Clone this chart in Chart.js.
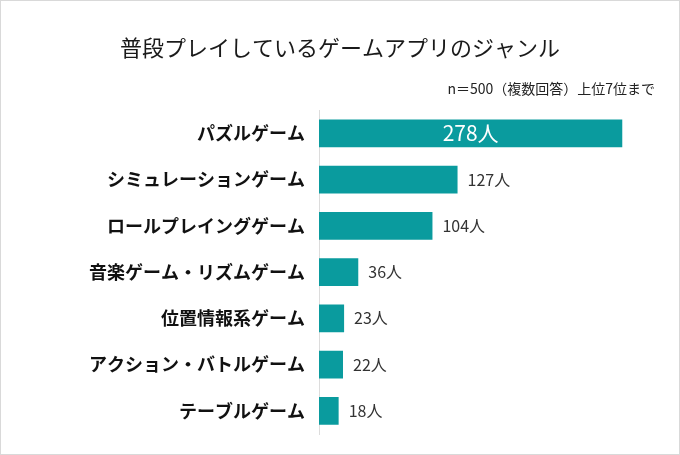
<!DOCTYPE html>
<html>
<head>
<meta charset="utf-8">
<script src="https://cdn.jsdelivr.net/npm/chart.js@4"></script>
<style>
  html, body { margin: 0; padding: 0; background: #fff; }
  #wrap { width: 680px; height: 455px; }
</style>
</head>
<body>
<div id="wrap"><canvas id="myChart" width="680" height="455"></canvas></div>
<script>
const genres = ['パズルゲーム', 'シミュレーションゲーム', 'ロールプレイングゲーム', '音楽ゲーム・リズムゲーム', '位置情報系ゲーム', 'アクション・バトルゲーム', 'テーブルゲーム'];
const counts = [278, 127, 104, 36, 23, 22, 18];
const unit = '人';
const titleText = '普段プレイしているゲームアプリのジャンル';
const noteText = 'n＝500（複数回答）上位7位まで';

const FONT = "'Noto Sans CJK JP', 'Noto Sans', sans-serif";
const TEAL = '#0a9b9e';

// white background + thin frame round the picture
const framePlugin = {
    id: 'frame',
    beforeDraw(chart) {
        const c = chart.ctx;
        c.save();
        c.fillStyle = '#fff';
        c.fillRect(0, 0, chart.width, chart.height);
        c.strokeStyle = '#d9d9d9';
        c.lineWidth = 1;
        c.strokeRect(0.5, 0.5, chart.width - 1, chart.height - 1);
        c.restore();
    }
};

// value labels: first bar inside in white, the rest after the bar end
const valueLabels = {
    id: 'valueLabels',
    afterDatasetsDraw(chart) {
        const c = chart.ctx;
        const meta = chart.getDatasetMeta(0);
        c.save();
        c.textBaseline = 'middle';
        meta.data.forEach((bar, i) => {
            const txt = counts[i] + unit;
            if (i === 0) {
                c.font = `21px ${FONT}`;
                c.fillStyle = '#fff';
                c.textAlign = 'center';
                c.fillText(txt, (bar.base + bar.x) / 2, bar.y);
            } else {
                c.font = `16px ${FONT}`;
                c.fillStyle = '#333';
                c.textAlign = 'left';
                c.fillText(txt, bar.x + 10, bar.y);
            }
        });
        c.restore();
    }
};

const ctx = document.getElementById('myChart').getContext('2d');
const myChart = new Chart(ctx, {
    type: 'bar',
    data: {
        labels: genres,
        datasets: [{
            data: counts,
            backgroundColor: TEAL,
            borderWidth: 0,
            barPercentage: 0.6,
            categoryPercentage: 1.0
        }]
    },
    plugins: [framePlugin, valueLabels],
    options: {
        indexAxis: 'y',
        responsive: false,
        animation: false,
        layout: { padding: { left: 25, right: 25, top: 0, bottom: 21 } },
        plugins: {
            legend: { display: false },
            tooltip: { enabled: false },
            title: {
                display: true,
                text: titleText,
                color: '#1a1a1a',
                font: { family: FONT, size: 22, weight: 'normal' },
                padding: { top: 34, bottom: 20 }
            },
            subtitle: {
                display: true,
                text: noteText,
                align: 'end',
                color: '#222',
                font: { family: FONT, size: 14, weight: 'normal' },
                padding: { top: 0, bottom: 13 }
            }
        },
        scales: {
            x: {
                display: false,
                min: 0,
                max: 308
            },
            y: {
                afterFit(scale) { scale.width = 294; },
                grid: { display: false },
                border: { display: true, color: '#dcdcdc', width: 1 },
                ticks: {
                    color: '#111',
                    padding: 6,
                    font: { family: FONT, size: 18, weight: 'bold' }
                }
            }
        }
    }
});
</script>
</body>
</html>
